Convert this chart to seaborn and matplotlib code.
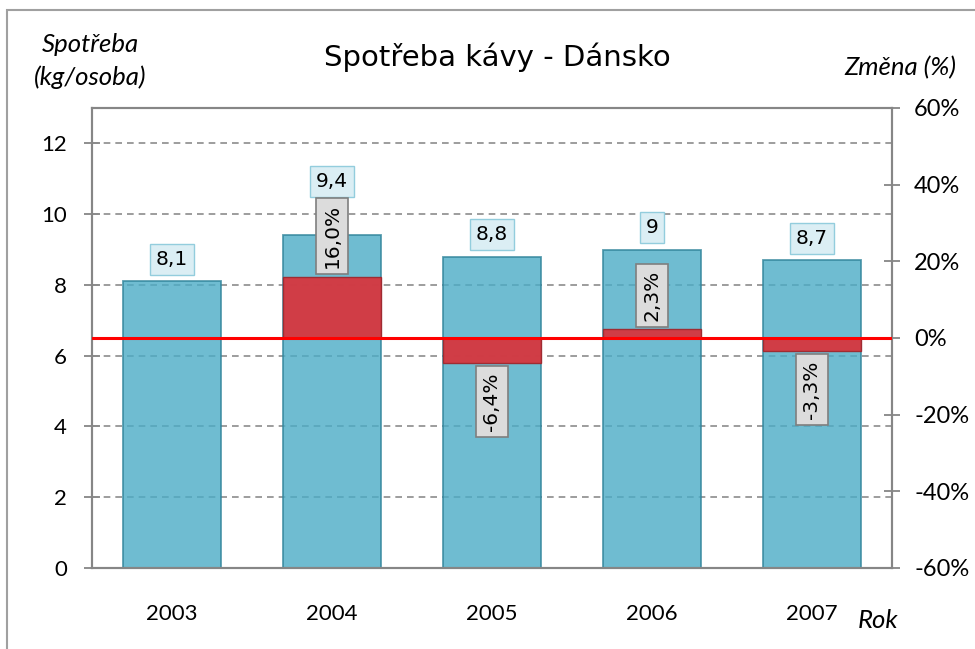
import numpy as np
import pandas as pd
import matplotlib
matplotlib.use("Agg")
import matplotlib.pyplot as plt
from matplotlib.patches import Rectangle
import seaborn as sns

# data
years = ["2003", "2004", "2005", "2006", "2007"]
consumption = [8.1, 9.4, 8.8, 9.0, 8.7]          # kg per person
change_pct = [np.nan, 16.0, -6.4, 2.3, -3.3]     # year-on-year change, %
consumption_labels = ["8,1", "9,4", "8,8", "9", "8,7"]
change_labels = ["", "16,0%", "-6,4%", "2,3%", "-3,3%"]
left_ticks = [0, 2, 4, 6, 8, 10, 12]
right_ticks = [-60, -40, -20, 0, 20, 40, 60]

df = pd.DataFrame({"rok": years, "spotreba": consumption, "zmena": change_pct})

sns.set_style("white")
plt.rcParams["text.color"] = "black"
plt.rcParams["xtick.color"] = "black"
plt.rcParams["ytick.color"] = "black"
tick_font = "Lato"
label_font = "DejaVu Sans"
grey = "#868686"

fig = plt.figure(figsize=(9.75, 6.49), dpi=100)
ax = fig.add_axes([92 / 975, 1 - 568 / 649, 800 / 975, 460 / 649])
ax2 = ax.twinx()

# consumption bars (translucent so the grid shows through like in the original)
sns.barplot(data=df, x="rok", y="spotreba", ax=ax, width=0.61,
            color="#4BACC6", alpha=0.8, edgecolor="#31849B", linewidth=1.3,
            saturation=1, zorder=2)
ax.set_ylim(0, 13)
ax.set_yticks(left_ticks)
ax.set_yticklabels([str(t) for t in left_ticks], fontfamily=tick_font, fontsize=16)
for t in left_ticks[1:]:
    ax.axhline(t, color="#8C8C8C", linestyle=(0, (4, 3)), linewidth=1.2, zorder=1)

# change bars on the secondary axis
sns.barplot(data=df, x="rok", y="zmena", ax=ax2, width=0.61,
            color="#D6363F", alpha=0.95, edgecolor="#A0282E", linewidth=1.0,
            saturation=1, zorder=2)
ax2.set_ylim(-60, 60)
ax2.set_yticks(right_ticks)
ax2.set_yticklabels([f"{t}%" for t in right_ticks], fontfamily=tick_font, fontsize=17)
ax2.axhline(0, color="#FF0000", linewidth=2.2, zorder=3)

# x axis: ticks on category boundaries, labels centred
ax.set_xlim(-0.5, len(years) - 0.5)
ax.set_xticks(np.arange(-0.5, len(years), 1))
ax.set_xticklabels([])
ax.set_xticks(range(len(years)), minor=True)
ax.set_xticklabels(years, minor=True, fontfamily=tick_font, fontsize=16)
ax.tick_params(axis="x", which="major", direction="out", length=7, color=grey, width=1.3)
ax.tick_params(axis="x", which="minor", length=0, pad=26)
ax.tick_params(axis="y", direction="inout", length=12, color=grey, width=1.3, pad=12)
ax2.tick_params(axis="y", direction="inout", length=12, color=grey, width=1.3, pad=10)
ax.set_xlabel("")
ax.set_ylabel("")
ax2.set_xlabel("")
ax2.set_ylabel("")

for a in (ax, ax2):
    for side in ("left", "right", "top", "bottom"):
        a.spines[side].set_color(grey)
        a.spines[side].set_linewidth(1.5)

# value labels above the consumption bars
lift = [0, 23, 0, 0, 0]
for i, (v, txt) in enumerate(zip(consumption, consumption_labels)):
    ax.annotate(txt, (i, v), xytext=(0, 9 + lift[i]), textcoords="offset points",
                ha="center", va="bottom", fontfamily=label_font, fontsize=14.5,
                zorder=5,
                bbox=dict(boxstyle="square,pad=0.3", facecolor="#DBEEF4",
                          edgecolor="#93CDDD", linewidth=1))

# rotated change labels at the end of the red bars
for i, (c, txt) in enumerate(zip(change_pct, change_labels)):
    if not txt:
        continue
    up = c > 0
    ax2.annotate(txt, (i, c), xytext=(0, 6 if up else -7), textcoords="offset points",
                 ha="center", va="bottom" if up else "top", rotation=90,
                 fontfamily=label_font, fontsize=14.5, zorder=5,
                 bbox=dict(boxstyle="square,pad=0.3", facecolor="#DCDCDC",
                           edgecolor="#7F7F7F", linewidth=1.2))

# titles and axis captions
fig.text(497 / 975, 1 - 57 / 649, "Spotřeba kávy - Dánsko", ha="center", va="center",
         fontfamily=label_font, fontsize=21)
fig.text(90 / 975, 1 - 61 / 649, "Spotřeba\n(kg/osoba)", ha="center", va="center",
         fontfamily=tick_font, fontstyle="italic", fontsize=18.5, linespacing=1.45)
fig.text(900 / 975, 1 - 68 / 649, "Změna (%)", ha="center", va="center",
         fontfamily=tick_font, fontstyle="italic", fontsize=18.5)
fig.text(878 / 975, 1 - 620 / 649, "Rok", ha="center", va="center",
         fontfamily=tick_font, fontstyle="italic", fontsize=18.5)

# chart frame (only left and top edges visible in the original crop)
fig.patches.append(Rectangle((7 / 975, -0.1), 1.2, 1 - 10 / 649 + 0.1,
                             transform=fig.transFigure, fill=False,
                             edgecolor="#A0A0A0", linewidth=1.5))

fig.savefig("out.png", dpi=100)
